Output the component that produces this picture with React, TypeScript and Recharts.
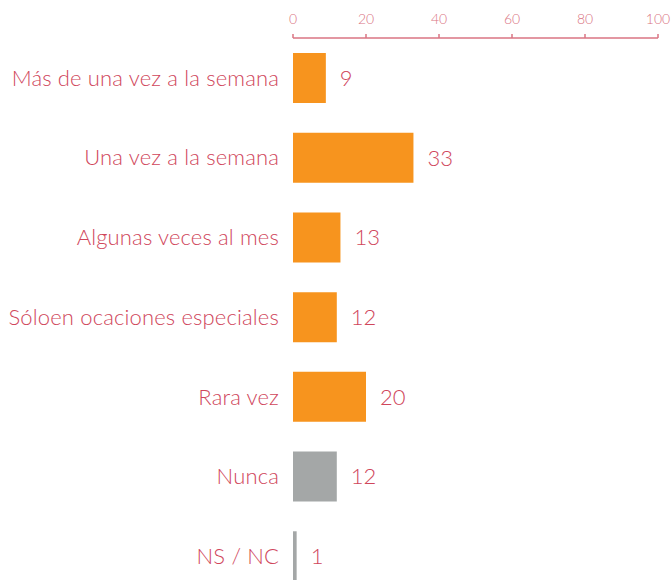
import React from "react";
import { BarChart, Bar, XAxis, YAxis, Cell, LabelList } from "recharts";

const categories = [
  "Más de una vez a la semana",
  "Una vez a la semana",
  "Algunas veces al mes",
  "Sóloen ocaciones especiales",
  "Rara vez",
  "Nunca",
  "NS / NC",
];
const values = [9, 33, 13, 12, 20, 12, 1];
const xTicks = [0, 20, 40, 60, 80, 100];
const grayCategories = ["Nunca", "NS / NC"];

const data = categories.map((name, i) => ({ name, value: values[i] }));

const TEXT = "#d0465b";
const AXIS = "#da7483";
const FONT = "Lato, 'Open Sans', sans-serif";

export default function App() {
  return (
    <div
      style={{
        position: "fixed",
        top: 0,
        left: 0,
        width: 672,
        height: 580,
        overflow: "hidden",
        background: "#fff",
      }}
    >
      <BarChart
        width={672}
        height={600}
        data={data}
        layout="vertical"
        margin={{ top: 8, right: 14, bottom: 4, left: 0 }}
      >
        <XAxis
          type="number"
          orientation="top"
          domain={[0, 100]}
          ticks={xTicks}
          height={30}
          tickSize={4}
          tickMargin={10}
          stroke={AXIS}
          strokeWidth={1.5}
          tick={{ fill: AXIS, fontSize: 14, fontFamily: FONT, fontWeight: 300 }}
        />
        <YAxis
          type="category"
          dataKey="name"
          width={293}
          axisLine={false}
          tickLine={false}
          tickSize={0}
          tickMargin={14}
          interval={0}
          tick={{
            fill: TEXT,
            fontSize: 22,
            fontFamily: FONT,
            fontWeight: 300,
            letterSpacing: 0.15,
          }}
        />
        <Bar dataKey="value" barSize={50} isAnimationActive={false}>
          {data.map((d) => (
            <Cell
              key={d.name}
              fill={grayCategories.includes(d.name) ? "#a4a7a7" : "#f7941e"}
            />
          ))}
          <LabelList
            dataKey="value"
            position="right"
            offset={14}
            fill={TEXT}
            fontSize={22}
            fontFamily={FONT}
            fontWeight={300}
          />
        </Bar>
      </BarChart>
    </div>
  );
}
